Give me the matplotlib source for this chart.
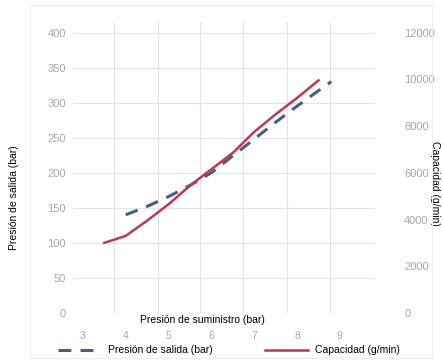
import matplotlib
matplotlib.use('Agg')
import matplotlib.pyplot as plt
from matplotlib.patches import Rectangle

plt.rcParams['font.family'] = ['Liberation Sans', 'DejaVu Sans']

# supply pressure (bar) vs outlet pressure (bar)
x_salida = [4.0, 4.5, 5.0, 5.5, 6.0, 6.5, 7.0, 7.5, 8.0, 8.5, 8.8]
presion_salida = [140, 152, 166, 182, 200, 224, 248, 272, 295, 317, 330]

# supply pressure (bar) vs capacity (g/min)
x_cap = [3.5, 4.0, 4.5, 5.0, 5.5, 6.0, 6.5, 7.0, 7.5, 8.0, 8.5]
capacidad = [3000, 3300, 3950, 4650, 5450, 6150, 6850, 7750, 8500, 9200, 9950]

x_ticks = [3, 4, 5, 6, 7, 8, 9]
x_grid = [3.72, 4.75, 5.73, 6.74, 7.77, 8.77]
y_left_ticks = [0, 50, 100, 150, 200, 250, 300, 350, 400]
y_right_ticks = [0, 2000, 4000, 6000, 8000, 10000, 12000]

col_dash = '#4a5d7e'
col_red = '#c0384f'
col_tick = '#a6a6a6'
col_grid = '#e4e4e4'

fig = plt.figure(figsize=(4.43, 3.62), dpi=100)
fig.patches.append(Rectangle((30 / 443, 0.01), 402 / 443, 0.975, transform=fig.transFigure,
                             fill=False, edgecolor='#eeeeee', lw=0.8))

ax = fig.add_axes([73 / 443, 1 - 313 / 362, 302 / 443, 291 / 362])
ax2 = ax.twinx()

ax.set_xlim(2.77, 9.82)
ax.set_ylim(0, 415)
ax2.set_ylim(0, 415 * 30)

ln1, = ax.plot(x_salida, presion_salida, color=col_dash, lw=2.2, dashes=(4.2, 3),
               label='Presión de salida (bar)')
ln2, = ax2.plot(x_cap, capacidad, color=col_red, lw=1.8, label='Capacidad (g/min)')

ax.set_xticks(x_ticks)
ax.set_xticks(x_grid, minor=True)
ax.set_yticks(y_left_ticks)
ax2.set_yticks(y_right_ticks)

ax.grid(axis='y', color=col_grid, lw=0.8)
ax.grid(axis='x', which='minor', color=col_grid, lw=0.8)
ax.set_axisbelow(True)

for a in (ax, ax2):
    for s in a.spines.values():
        s.set_visible(False)
ax.tick_params(axis='x', which='both', length=0, colors=col_tick, labelsize=7.5, pad=13)
ax.tick_params(axis='y', length=0, colors=col_tick, labelsize=8, pad=5)
ax2.tick_params(axis='y', length=0, colors=col_tick, labelsize=8, pad=21)

ax.set_xlabel('Presión de suministro (bar)', fontsize=7.5)
ax.xaxis.set_label_coords(0.427, -0.008)
ax.set_ylabel('Presión de salida (bar)', fontsize=7.5)
ax.yaxis.set_label_coords(-0.18, 0.395)
ax2.set_ylabel('Capacidad (g/min)', fontsize=7.5, rotation=-90, va='center')
ax2.yaxis.set_label_coords(1.2, 0.445)

fig.legend([ln1, ln2], [ln1.get_label(), ln2.get_label()], loc='center',
           bbox_to_anchor=(0.516, 0.032), ncol=2, frameon=False, fontsize=7.5,
           handlelength=4.2, handletextpad=0.6, columnspacing=5.0)

fig.savefig('out.png', dpi=100)
